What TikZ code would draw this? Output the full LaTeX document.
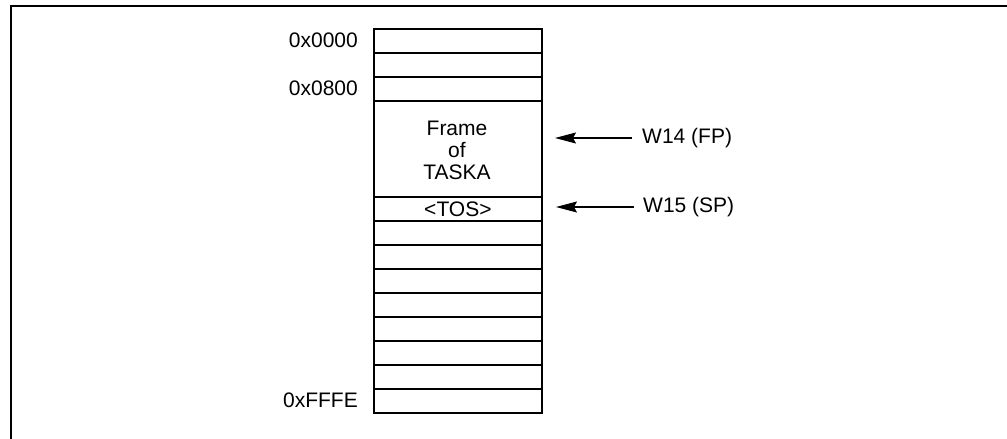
\documentclass[tikz,border=0pt]{standalone}
\usepackage{fontspec}
\setmainfont{Liberation Sans}
\usetikzlibrary{arrows.meta}
\newcommand\lblfont{\fontsize{21}{22}\selectfont}
\begin{document}
\begin{tikzpicture}[x=1pt,y=-1pt,
  cell/.style={draw, line width=1.8pt, minimum width=168pt, minimum height=24pt, inner sep=0pt, anchor=north west, font=\lblfont},
  addr/.style={anchor=east, inner sep=0pt, font=\lblfont},
  reg/.style={anchor=west, inner sep=0pt, font=\lblfont},
  ptr/.style={line width=1.3pt, -{Stealth[length=21pt,width=11pt,inset=3pt]}}]
\useasboundingbox (0,0) rectangle (1007,439);
% outer frame (clipped)
\draw[line width=2pt] (11,445) -- (11,6) -- (1012,6);
% stack cells
\node[cell] (c1) at (373,28) {};
\node[cell] (c2) at (373,52) {};
\node[cell] (c3) at (373,76) {};
\node[cell, minimum height=96pt] (frame) at (373,100) {};
\node[align=center, font=\lblfont, inner sep=0pt] (frametxt) at (457,150) {Frame\\of\\TASKA};
\node[cell] (tos) at (373,196) {<TOS>};
\foreach \i/\y in {1/220,2/244,3/268,4/292,5/316,6/340,7/364,8/388}
  \node[cell] (s\i) at (373,\y) {};
% addresses
\node[addr] (a0) at (358,40) {0x0000};
\node[addr] (a8) at (358,88) {0x0800};
\node[addr] (aF) at (358,400) {0xFFFE};
% registers
\node[reg] (w14) at (642,138) {W14 (FP)};
\node[reg] (w15) at (643,207) {W15 (SP)};
\coordinate (fptip) at (555,138);
\coordinate (sptip) at (556,207);
\draw[ptr, shorten <=10pt] (w14.west) -- (fptip);
\draw[ptr, shorten <=9pt] (w15.west) -- (sptip);
\end{tikzpicture}
\end{document}
